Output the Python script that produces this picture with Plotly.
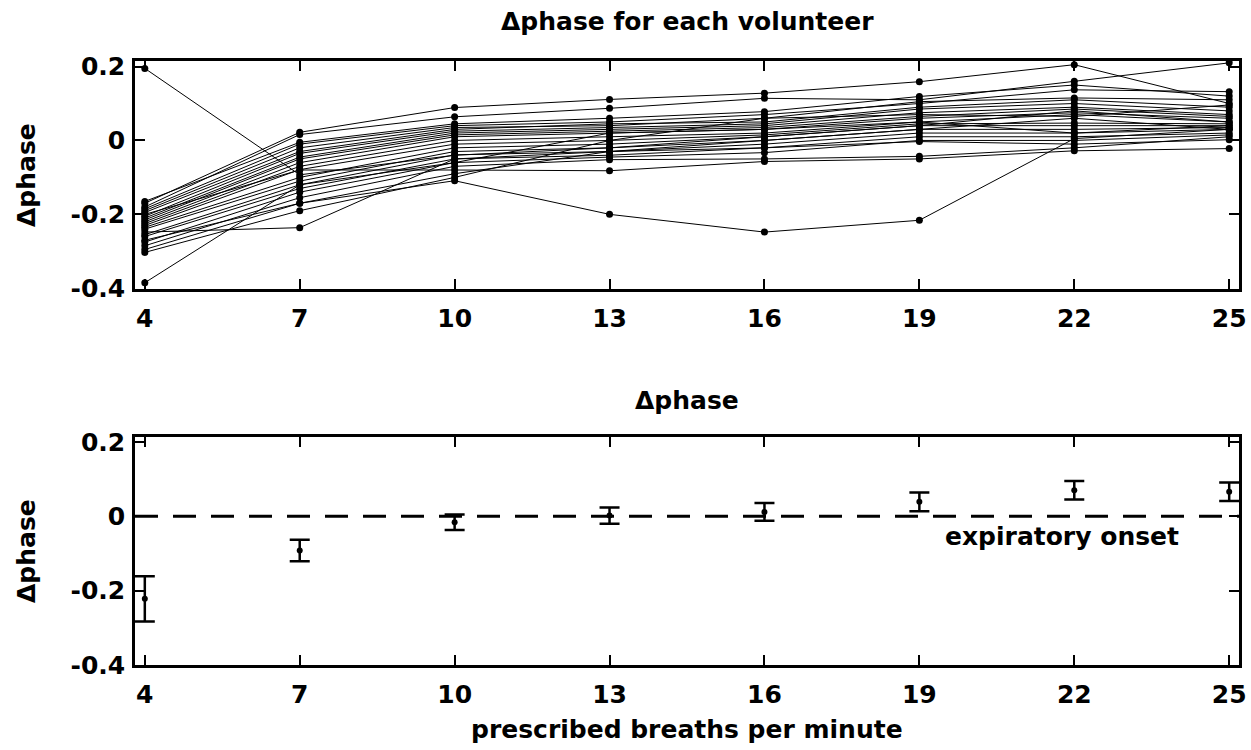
import plotly.graph_objects as go

breaths = [4, 7, 10, 13, 16, 19, 22, 25]
x_tick_labels = ["4", "7", "10", "13", "16", "19", "22", "25"]
y_tick_vals = [-0.4, -0.2, 0, 0.2]
y_tick_labels = ["-0.4", "-0.2", "0", "0.2"]

# Per-volunteer delta-phase (values at 4,7,10,13,16,19,22,25 breaths/min)
vol01 = [0.195, -0.093, -0.04, -0.02, 0.01, 0.04, 0.08, 0.05]
vol02 = [-0.385, -0.12, -0.06, 0.02, 0.03, 0.05, 0.02, 0.04]
vol03 = [-0.248, -0.236, -0.05, -0.03, 0.0, 0.03, 0.06, 0.03]
vol04 = [-0.27, -0.17, -0.109, -0.2, -0.248, -0.216, 0.005, 0.03]
vol05 = [-0.17, 0.022, 0.089, 0.111, 0.128, 0.159, 0.205, 0.10]
vol06 = [-0.18, 0.016, 0.064, 0.087, 0.114, 0.11, 0.16, 0.21]
vol07 = [-0.2, -0.08, -0.08, -0.082, -0.057, -0.05, -0.028, -0.022]
vol08 = [-0.165, -0.005, 0.045, 0.06, 0.078, 0.119, 0.15, 0.12]
vol09 = [-0.185, -0.01, 0.04, 0.05, 0.07, 0.10, 0.137, 0.132]
vol10 = [-0.19, -0.02, 0.035, 0.04, 0.06, 0.105, 0.115, 0.11]
vol11 = [-0.195, -0.03, 0.03, 0.045, 0.05, 0.09, 0.11, 0.09]
vol12 = [-0.205, -0.035, 0.025, 0.035, 0.045, 0.085, 0.10, 0.08]
vol13 = [-0.21, -0.045, 0.02, 0.03, 0.04, 0.075, 0.09, 0.07]
vol14 = [-0.215, -0.05, 0.015, 0.025, 0.035, 0.065, 0.085, 0.065]
vol15 = [-0.22, -0.06, 0.01, 0.02, 0.03, 0.06, 0.075, 0.06]
vol16 = [-0.225, -0.07, 0.0, 0.01, 0.02, 0.05, 0.07, 0.05]
vol17 = [-0.23, -0.079, -0.01, 0.0, 0.015, 0.045, 0.047, 0.045]
vol18 = [-0.235, -0.10, -0.02, -0.01, 0.01, 0.04, 0.04, 0.04]
vol19 = [-0.24, -0.11, -0.03, -0.02, 0.0, 0.03, 0.03, 0.035]
vol20 = [-0.255, -0.12, -0.039, -0.03, -0.01, 0.02, 0.02, 0.03]
vol21 = [-0.26, -0.13, -0.05, -0.04, -0.02, 0.01, 0.01, 0.02]
vol22 = [-0.275, -0.14, -0.06, -0.045, -0.033, 0.0, 0.0, 0.015]
vol23 = [-0.285, -0.155, -0.07, -0.052, -0.05, -0.043, -0.02, 0.01]
vol24 = [-0.295, -0.17, -0.09, -0.03, -0.02, -0.003, -0.01, 0.002]
vol25 = [-0.303, -0.19, -0.10, 0.0, 0.06, 0.07, 0.065, 0.096]

volunteers = [vol01, vol02, vol03, vol04, vol05, vol06, vol07, vol08, vol09,
              vol10, vol11, vol12, vol13, vol14, vol15, vol16, vol17, vol18,
              vol19, vol20, vol21, vol22, vol23, vol24, vol25]

# Group mean and error
mean_phase = [-0.222, -0.092, -0.016, 0.002, 0.012, 0.039, 0.070, 0.066]
err_phase = [0.061, 0.029, 0.021, 0.022, 0.024, 0.025, 0.025, 0.025]

FONT = "DejaVu Sans"
fsize = 25

fig = go.Figure()

for v in volunteers:
    fig.add_trace(go.Scatter(
        x=breaths, y=v, mode="lines+markers",
        line=dict(color="black", width=1),
        marker=dict(color="black", size=7),
        xaxis="x", yaxis="y", showlegend=False, hoverinfo="skip"))

fig.add_trace(go.Scatter(
    x=breaths, y=mean_phase, mode="markers",
    marker=dict(color="black", size=6),
    error_y=dict(type="data", array=err_phase, visible=True,
                 color="black", thickness=2.5, width=10),
    xaxis="x2", yaxis="y2", showlegend=False))

xdom = [135 / 1251, 1239 / 1251]
axis_common = dict(
    showline=True, linecolor="black", linewidth=2.5, mirror="ticks",
    ticks="inside", ticklen=10, tickwidth=2, tickcolor="black",
    showgrid=False, zeroline=False, automargin=False,
    tickfont=dict(family=FONT, size=fsize, color="black", weight="bold"),
)

fig.update_layout(
    width=1251, height=750,
    margin=dict(l=0, r=0, t=0, b=0, autoexpand=False),
    paper_bgcolor="white", plot_bgcolor="white",
    xaxis=dict(domain=xdom, range=[3.81, 25.19], anchor="y",
               tickvals=breaths, ticktext=x_tick_labels,
               ticklabelstandoff=5, **axis_common),
    yaxis=dict(domain=[1 - 289 / 750, 1 - 61 / 750], range=[-0.402, 0.215],
               anchor="x", tickvals=y_tick_vals, ticktext=y_tick_labels,
               ticklabelstandoff=2, **axis_common),
    xaxis2=dict(domain=xdom, range=[3.81, 25.19], anchor="y2",
                tickvals=breaths, ticktext=x_tick_labels,
                ticklabelstandoff=5, **axis_common),
    yaxis2=dict(domain=[1 - 665 / 750, 1 - 437 / 750], range=[-0.4, 0.2135],
                anchor="x2", tickvals=y_tick_vals, ticktext=y_tick_labels,
                ticklabelstandoff=2, **axis_common),
    shapes=[dict(type="line", xref="x2 domain", yref="y2", x0=0, x1=1,
                 y0=0, y1=0, line=dict(color="black", width=3,
                                       dash="23px,15px"))],
)

tfont = dict(family=FONT, size=fsize, color="black", weight="bold")
ann = [
    dict(text="Δphase for each volunteer", x=687 / 1251, y=1 - 22 / 750),
    dict(text="Δphase", x=687 / 1251, y=1 - 400 / 750),
    dict(text="prescribed breaths per minute", x=687 / 1251, y=1 - 729 / 750),
    dict(text="Δphase", x=26 / 1251, y=1 - 175 / 750, textangle=-90),
    dict(text="Δphase", x=26 / 1251, y=1 - 551 / 750, textangle=-90),
]
for a in ann:
    fig.add_annotation(xref="paper", yref="paper", xanchor="center",
                       yanchor="middle", showarrow=False, font=tfont, **a)

fig.add_annotation(text="expiratory onset", xref="x2", yref="y2",
                   x=21.77, y=-0.053, xanchor="center", yanchor="middle",
                   showarrow=False, font=tfont)

fig.write_html("out.html")
